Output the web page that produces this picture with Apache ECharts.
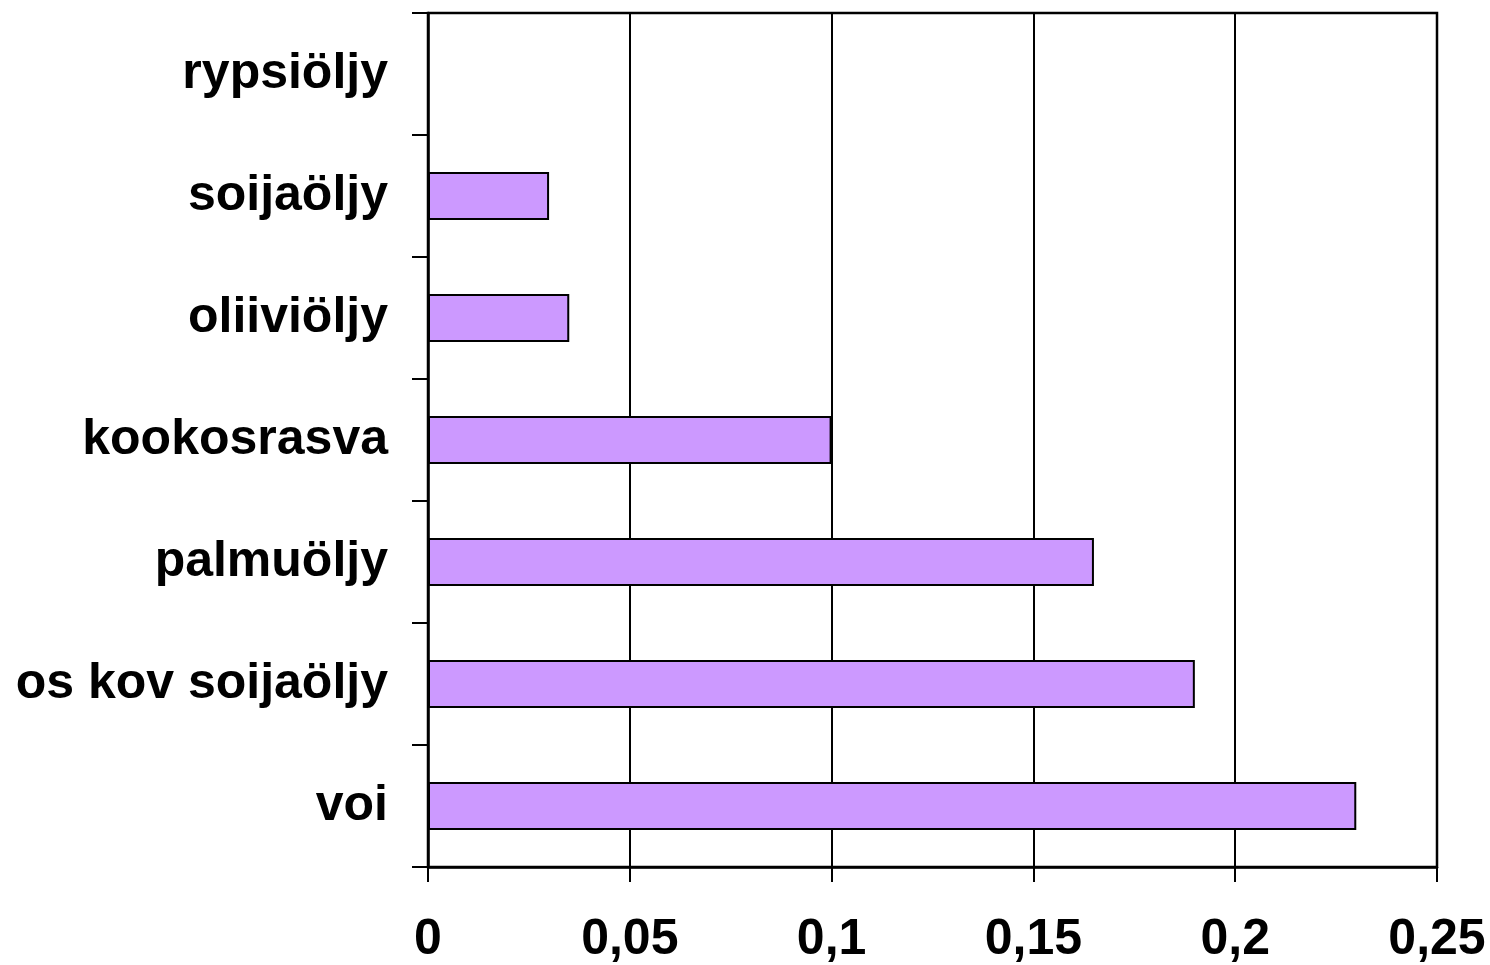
<!DOCTYPE html>
<html>
<head>
<meta charset="utf-8">
<script src="https://cdn.jsdelivr.net/npm/echarts@6/dist/echarts.min.js"></script>
<style>
  html, body { margin: 0; padding: 0; background: #fff; }
  #chart { width: 1490px; height: 965px; }
</style>
</head>
<body>
<div id="chart"></div>
<script>
// Fats and oils, listed bottom to top
const categories = ['voi', 'os kov soijaöljy', 'palmuöljy', 'kookosrasva', 'oliiviöljy', 'soijaöljy', 'rypsiöljy'];
const values = [0.23, 0.19, 0.165, 0.1, 0.035, 0.03, 0];
const xTickLabels = ['0', '0,05', '0,1', '0,15', '0,2', '0,25'];

const font = 'Arial, "Liberation Sans", Helvetica, sans-serif';
const chart = echarts.init(document.getElementById('chart'), null, { renderer: 'canvas' });

chart.setOption({
  animation: false,
  backgroundColor: '#ffffff',
  grid: {
    left: 428, right: 53, top: 13, bottom: 95,
    show: true, borderColor: '#000', borderWidth: 2.5, backgroundColor: 'transparent'
  },
  xAxis: {
    type: 'value',
    min: 0, max: 0.25, interval: 0.05,
    axisLine: { show: true, lineStyle: { color: '#000', width: 2.5 } },
    axisTick: { show: true, length: 15, lineStyle: { color: '#000', width: 2 } },
    splitLine: { show: true, lineStyle: { color: '#000', width: 2 } },
    axisLabel: {
      margin: 48,
      color: '#000',
      fontFamily: font,
      fontWeight: 'bold',
      fontSize: 50
    ,
      formatter: function (v) { return xTickLabels[Math.round(v / 0.05)]; }
    }
  },
  yAxis: {
    type: 'category',
    data: categories,
    axisLine: { show: true, lineStyle: { color: '#000', width: 2.5 } },
    axisTick: { show: true, length: 16, lineStyle: { color: '#000', width: 2 } },
    axisLabel: {
      margin: 40,
      color: '#000',
      fontFamily: font,
      fontWeight: 'bold',
      fontSize: 50
    }
  },
  series: [{
    type: 'bar',
    data: values,
    barWidth: 48,
    itemStyle: { color: '#CC99FF', borderColor: '#000', borderWidth: 2 }
  }]
});
</script>
</body>
</html>
